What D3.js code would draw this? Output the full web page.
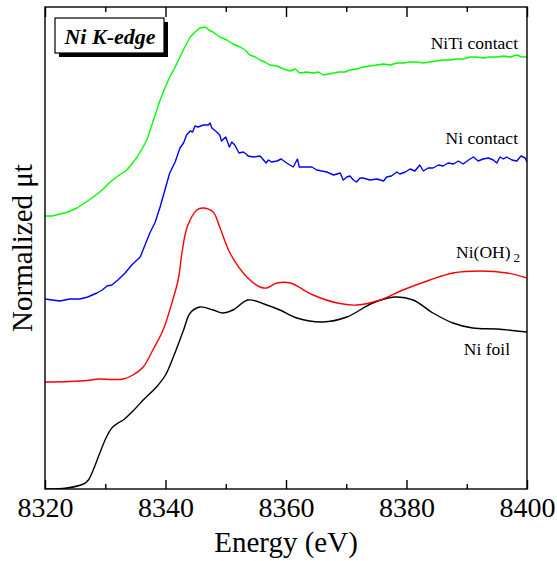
<!DOCTYPE html>
<html>
<head>
<meta charset="utf-8">
<script src="https://cdn.jsdelivr.net/npm/d3@7/dist/d3.min.js"></script>
<style>
  html, body { margin: 0; padding: 0; background: #fff; }
  svg { display: block; }
</style>
</head>
<body>
<svg id="chart" width="557" height="561"></svg>
<script>
// ---- data (energy in eV, normalized absorbance with vertical offsets) ----
const xTicks = [8320, 8340, 8360, 8380, 8400];
const xMinorTicks = [8330, 8350, 8370, 8390];

const niFoilE = [8320, 8323.6, 8326.4, 8327.2, 8328.0, 8329.1, 8330.2, 8331.1, 8332.4, 8333.0, 8334.6, 8336.3, 8338.5, 8340.0, 8341.3, 8343.0, 8344.1, 8345.7, 8347.9, 8349.5, 8351.2, 8353.7, 8356.8, 8359.0, 8361.8, 8366.1, 8370.1, 8374.4, 8378.1, 8381.1, 8384.4, 8387.7, 8391.0, 8395.0, 8400];
const niFoilV = [0.00, 0.01, 0.05, 0.09, 0.19, 0.36, 0.52, 0.61, 0.67, 0.69, 0.78, 0.89, 1.02, 1.14, 1.32, 1.59, 1.76, 1.82, 1.79, 1.76, 1.79, 1.89, 1.84, 1.79, 1.71, 1.67, 1.72, 1.86, 1.92, 1.89, 1.76, 1.66, 1.61, 1.60, 1.57];

const niOHE = [8320, 8324, 8327, 8329, 8331, 8333, 8334.6, 8336.3, 8337.9, 8339.6, 8341.2, 8342.1, 8342.8, 8343.6, 8345.2, 8346.2, 8347.9, 8349.0, 8350.7, 8353.5, 8355.7, 8356.8, 8358.5, 8360.7, 8364.5, 8368.5, 8371.8, 8375.6, 8379.4, 8383.9, 8387.7, 8392.2, 8396.7, 8400];
const niOHV = [1.07, 1.075, 1.085, 1.10, 1.095, 1.10, 1.14, 1.22, 1.39, 1.59, 1.89, 2.09, 2.39, 2.62, 2.79, 2.81, 2.77, 2.62, 2.36, 2.12, 2.02, 2.01, 2.06, 2.06, 1.94, 1.86, 1.84, 1.89, 1.99, 2.09, 2.16, 2.18, 2.16, 2.11];

const niContactE = [8320.0, 8321.2, 8322.5, 8324.1, 8325.8, 8327.1, 8328.6, 8329.5, 8330.3, 8331.1, 8332.1, 8333.3, 8334.4, 8335.8, 8336.6, 8337.4, 8338.3, 8339.1, 8339.9, 8340.7, 8341.6, 8342.4, 8343.0, 8343.5, 8344.1, 8344.5, 8344.9, 8345.4, 8346.3, 8347.1, 8347.4, 8347.7, 8348.5, 8349.0, 8349.3, 8350.0, 8350.6, 8351.0, 8351.5, 8352.2, 8352.9, 8353.4, 8353.7, 8354.6, 8355.7, 8356.7, 8357.1, 8357.6, 8358.5, 8359.2, 8360.1, 8361.2, 8361.9, 8362.2, 8363.2, 8364.3, 8365.1, 8365.9, 8366.8, 8367.9, 8369.0, 8369.5, 8370.1, 8370.6, 8371.2, 8371.7, 8372.3, 8372.8, 8373.9, 8375.1, 8376.2, 8376.7, 8377.5, 8378.4, 8378.9, 8379.8, 8380.6, 8381.4, 8382.2, 8382.8, 8383.6, 8384.4, 8385.3, 8386.1, 8386.9, 8387.8, 8388.6, 8389.4, 8390.3, 8391.1, 8391.9, 8392.7, 8393.6, 8394.4, 8395.0, 8395.5, 8396.1, 8396.6, 8397.5, 8398.3, 8399.0, 8399.7, 8400.0];
const niContactV = [1.90, 1.89, 1.88, 1.90, 1.90, 1.92, 1.96, 1.99, 2.03, 2.04, 2.09, 2.16, 2.24, 2.32, 2.44, 2.56, 2.67, 2.82, 2.99, 3.16, 3.27, 3.41, 3.46, 3.54, 3.58, 3.57, 3.63, 3.62, 3.64, 3.64, 3.66, 3.61, 3.57, 3.54, 3.48, 3.52, 3.42, 3.47, 3.44, 3.36, 3.37, 3.35, 3.33, 3.32, 3.33, 3.26, 3.29, 3.27, 3.28, 3.30, 3.26, 3.22, 3.30, 3.22, 3.22, 3.22, 3.19, 3.18, 3.17, 3.14, 3.16, 3.09, 3.12, 3.13, 3.09, 3.07, 3.11, 3.11, 3.09, 3.10, 3.08, 3.12, 3.13, 3.17, 3.15, 3.17, 3.20, 3.18, 3.24, 3.18, 3.21, 3.21, 3.24, 3.23, 3.26, 3.25, 3.28, 3.25, 3.29, 3.32, 3.28, 3.30, 3.31, 3.29, 3.26, 3.32, 3.30, 3.32, 3.29, 3.28, 3.33, 3.31, 3.27];

const niTiE = [8320.0, 8321.2, 8322.5, 8323.8, 8325.3, 8326.6, 8328.0, 8329.5, 8330.8, 8332.1, 8333.6, 8334.4, 8335.3, 8336.1, 8336.9, 8337.9, 8339.1, 8339.9, 8340.7, 8341.6, 8342.4, 8343.2, 8344.1, 8344.9, 8345.7, 8346.6, 8347.2, 8347.9, 8349.0, 8350.2, 8351.2, 8352.4, 8353.2, 8354.0, 8354.9, 8355.7, 8356.5, 8357.3, 8358.5, 8359.6, 8360.7, 8361.5, 8362.3, 8363.4, 8364.5, 8365.4, 8366.2, 8367.0, 8367.9, 8368.7, 8369.8, 8370.6, 8371.7, 8372.8, 8373.9, 8375.1, 8376.2, 8377.3, 8378.4, 8379.5, 8380.6, 8381.7, 8382.8, 8383.9, 8385.0, 8386.1, 8387.2, 8388.3, 8389.4, 8390.5, 8391.7, 8392.7, 8393.9, 8395.0, 8396.1, 8397.2, 8398.3, 8399.1, 8400.0];
const niTiV = [2.73, 2.73, 2.75, 2.77, 2.81, 2.86, 2.92, 2.99, 3.07, 3.13, 3.19, 3.25, 3.32, 3.40, 3.49, 3.67, 3.89, 4.01, 4.12, 4.22, 4.32, 4.42, 4.52, 4.57, 4.61, 4.62, 4.59, 4.57, 4.52, 4.49, 4.45, 4.42, 4.39, 4.34, 4.32, 4.29, 4.27, 4.24, 4.23, 4.20, 4.18, 4.20, 4.16, 4.17, 4.16, 4.17, 4.14, 4.15, 4.16, 4.17, 4.17, 4.19, 4.20, 4.22, 4.23, 4.24, 4.25, 4.24, 4.26, 4.26, 4.27, 4.27, 4.26, 4.27, 4.28, 4.29, 4.29, 4.30, 4.30, 4.32, 4.32, 4.31, 4.32, 4.32, 4.33, 4.32, 4.34, 4.32, 4.32];

const seriesNames = ["Ni foil", "Ni(OH)2", "Ni contact", "NiTi contact"];
const seriesColors = ["#000000", "#ff0000", "#0000ff", "#00ff00"];

const SERIF = "'Liberation Serif', serif";

// ---- layout ----
const svg = d3.select("#chart");
const L = 45, T = 7, W = 482, H = 482;
const x = d3.scaleLinear().domain([8320, 8400]).range([L, L + W]);
const y = d3.scaleLinear().domain([0, 4.82]).range([T + H, T]);

const g = svg.append("g");
svg.append("defs").append("clipPath").attr("id", "clip")
  .append("rect").attr("x", L).attr("y", T).attr("width", W).attr("height", H);

const series = [
  { E: niFoilE, V: niFoilV, smooth: true },
  { E: niOHE, V: niOHV, smooth: true },
  { E: niContactE, V: niContactV, smooth: false },
  { E: niTiE, V: niTiV, smooth: false }
];

series.forEach((s, i) => {
  const pts = s.E.map((e, k) => [e, s.V[k]]);
  const line = d3.line().x(d => x(d[0])).y(d => y(d[1]))
    .curve(s.smooth ? d3.curveCatmullRom.alpha(0.5) : d3.curveLinear);
  g.append("path").attr("d", line(pts)).attr("fill", "none")
    .attr("stroke", seriesColors[i]).attr("stroke-width", 1.4)
    .attr("stroke-linejoin", "round").attr("clip-path", "url(#clip)");
});

// frame
g.append("rect").attr("x", L).attr("y", T).attr("width", W).attr("height", H)
  .attr("fill", "none").attr("stroke", "#000").attr("stroke-width", 1.4);

// bottom axis (inward ticks)
const bottomAxis = d3.axisBottom(x).tickValues(xTicks).tickSize(-9).tickPadding(8).tickFormat(d3.format("d"));
const ba = g.append("g").attr("transform", `translate(0,${T + H})`).call(bottomAxis);
ba.select(".domain").remove();
ba.selectAll(".tick line").attr("stroke", "#000").attr("stroke-width", 1.4);
ba.selectAll(".tick text").attr("font-size", 28).style("font-family", SERIF).attr("fill", "#000").attr("dy", "0.72em");

const bottomMinor = d3.axisBottom(x).tickValues(xMinorTicks).tickSize(-5).tickFormat("");
const bm = g.append("g").attr("transform", `translate(0,${T + H})`).call(bottomMinor);
bm.select(".domain").remove();
bm.selectAll(".tick line").attr("stroke", "#000").attr("stroke-width", 1.4);

// top axis (inward ticks)
const topAxis = d3.axisTop(x).tickValues(xTicks).tickSize(-10).tickFormat("");
const ta = g.append("g").attr("transform", `translate(0,${T})`).call(topAxis);
ta.select(".domain").remove();
ta.selectAll(".tick line").attr("stroke", "#000").attr("stroke-width", 1.4);
const topMinor = d3.axisTop(x).tickValues(xMinorTicks).tickSize(-5).tickFormat("");
const tm = g.append("g").attr("transform", `translate(0,${T})`).call(topMinor);
tm.select(".domain").remove();
tm.selectAll(".tick line").attr("stroke", "#000").attr("stroke-width", 1.4);

function txt(xp, yp, anchor, size, s) {
  return svg.append("text").attr("x", xp).attr("y", yp).attr("text-anchor", anchor)
    .attr("font-size", size).style("font-family", SERIF).attr("fill", "#000").text(s);
}

// axis titles
txt(L + W / 2, 552, "middle", 29, "Energy (eV)");
txt(0, 0, "middle", 29, "Normalized \u03bct").attr("transform", `translate(32,${T + H / 2}) rotate(-90)`);

// series labels
txt(518, 49, "end", 17.5, "NiTi contact");
txt(518, 144, "end", 17.5, "Ni contact");
const oh = txt(520, 258, "end", 17.5, null);
oh.append("tspan").text("Ni(OH)");
oh.append("tspan").attr("font-size", 13).attr("dx", 3).attr("dy", 4).text("2");
txt(510, 355, "end", 17.5, "Ni foil");

// "Ni K-edge" box with shadow
svg.append("rect").attr("x", 59).attr("y", 22).attr("width", 109).attr("height", 35).attr("fill", "#000");
svg.append("rect").attr("x", 55).attr("y", 18).attr("width", 109).attr("height", 35)
  .attr("fill", "#fff").attr("stroke", "#000").attr("stroke-width", 1.2);
txt(110, 44, "middle", 22, "Ni K-edge").attr("font-weight", "bold").attr("font-style", "italic");
</script>
</body>
</html>
